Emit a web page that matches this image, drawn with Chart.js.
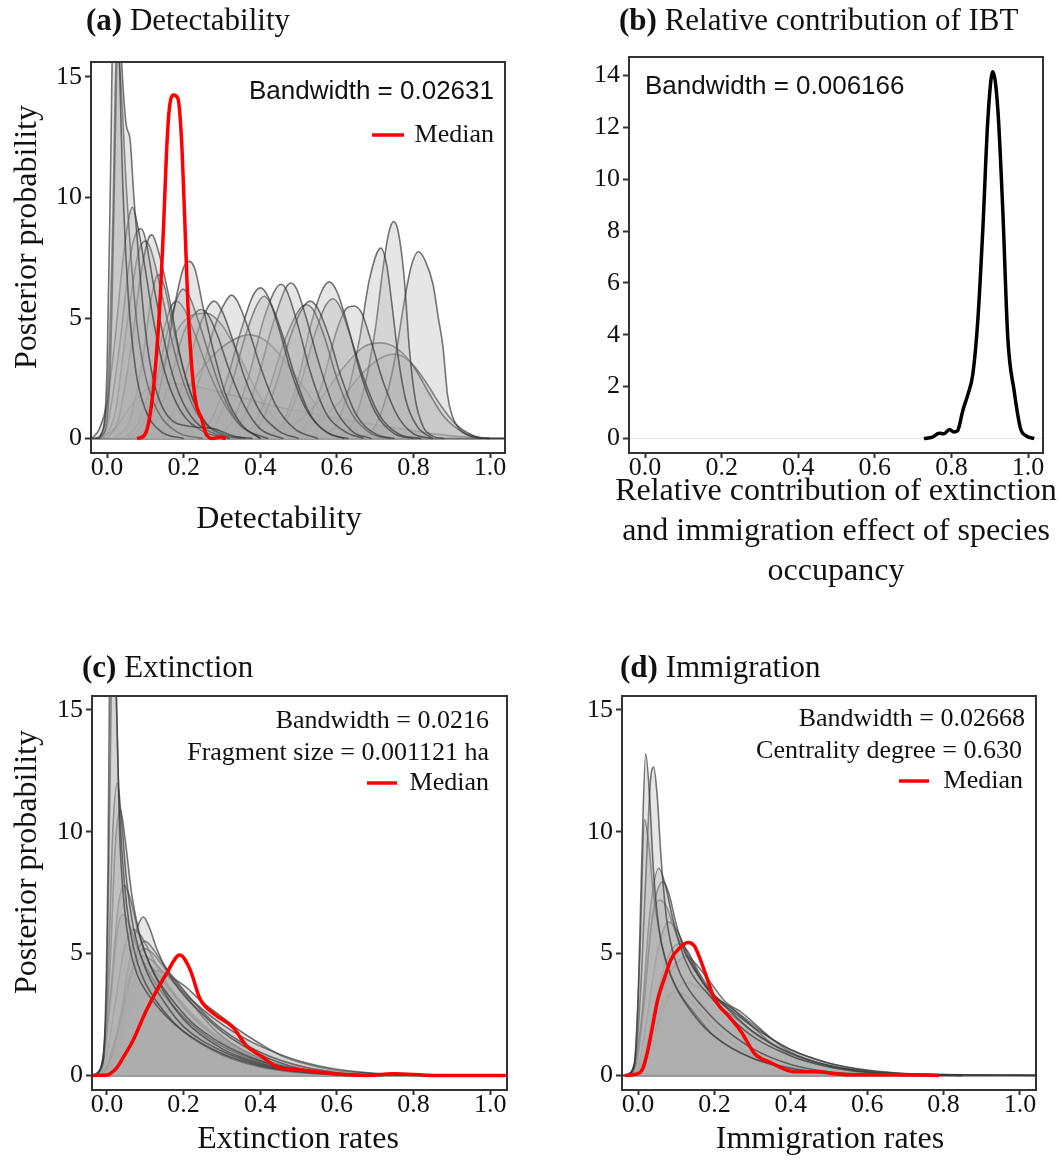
<!DOCTYPE html>
<html>
<head>
<meta charset="utf-8">
<script src="https://cdn.jsdelivr.net/npm/chart.js@4.4.1/dist/chart.umd.min.js"></script>
<style>
  body { margin: 0; background: #fff; }
  #fig { position: relative; width: 1062px; height: 1168px; overflow: hidden; background: #fff; }
  #fig canvas { position: absolute; }
  .ttl { position: absolute; font-family: 'Liberation Serif', 'Times New Roman', serif; font-size: 31px;
         line-height: 36px; color: #111; white-space: nowrap; }
</style>
</head>
<body>
<div id="fig">
  <canvas id="panelA" width="531" height="600" style="left:0;top:0"></canvas>
  <canvas id="panelB" width="531" height="600" style="left:531px;top:0"></canvas>
  <canvas id="panelC" width="531" height="568" style="left:0;top:600px"></canvas>
  <canvas id="panelD" width="531" height="568" style="left:531px;top:600px"></canvas>
  <div class="ttl" style="left:86px;top:2px"><b>(a)</b> Detectability</div>
  <div class="ttl" style="left:619px;top:2px"><b>(b)</b> Relative contribution of IBT</div>
  <div class="ttl" style="left:82px;top:649px"><b>(c)</b> Extinction</div>
  <div class="ttl" style="left:620px;top:649px"><b>(d)</b> Immigration</div>
</div>
<script>
// tick labels
const xTicks = [0, 0.2, 0.4, 0.6, 0.8, 1.0];
const rateYTicks = [0, 5, 10, 15];
const ibtYTicks = [0, 2, 4, 6, 8, 10, 12, 14];

// (a) detectability: posterior densities per species, [x, density]
const detectCurves = [
  [[-0.03,0],[-0.01,0.4],[0,3],[0.01,12],[0.02,22],[0.03,17],[0.04,11],[0.055,6],[0.075,2.8],[0.1,1.2],[0.14,0.3],[0.2,0]],
  [[-0.02,0],[0,0.8],[0.012,5],[0.022,13],[0.03,18],[0.04,15],[0.05,13],[0.06,12.4],[0.07,10],[0.085,7],[0.1,4.5],[0.12,2.5],[0.16,0.9],[0.22,0.5],[0.28,0.4],[0.33,0.1],[0.38,0]],
  [[-0.02,0],[0,1.5],[0.015,9],[0.025,16.5],[0.035,15],[0.05,10.5],[0.065,7],[0.08,4.5],[0.1,2.6],[0.13,1.2],[0.18,0.3],[0.25,0]],
  [[-0.04,0],[-0.02,0.4],[0,1.5],[0.02,4],[0.04,7.2],[0.055,9],[0.066,9.6],[0.08,8.8],[0.1,7],[0.12,5],[0.15,2.8],[0.19,1.2],[0.25,0.3],[0.32,0]],
  [[-0.02,0],[0,0.5],[0.03,3.5],[0.06,7.5],[0.075,8.5],[0.089,8.7],[0.1,8.3],[0.12,6.5],[0.15,4],[0.18,2.2],[0.22,0.9],[0.28,0.2],[0.35,0]],
  [[0,0],[0.03,0.8],[0.06,3.5],[0.09,7],[0.108,8.3],[0.117,8.45],[0.13,8],[0.16,6],[0.19,3.5],[0.22,1.8],[0.26,0.6],[0.32,0]],
  [[-0.01,0],[0.02,1],[0.05,4.5],[0.08,7.6],[0.1,8.2],[0.115,7.8],[0.14,6.2],[0.17,4],[0.2,2.3],[0.24,0.9],[0.3,0.2],[0.36,0]],
  [[0.08,0],[0.12,1],[0.15,3],[0.18,5.8],[0.2,7.1],[0.215,7.35],[0.23,7],[0.25,5.5],[0.28,3.5],[0.31,1.8],[0.35,0.6],[0.4,0]],
  [[0.02,0],[0.06,0.8],[0.09,3],[0.115,5.8],[0.133,6.8],[0.15,6.3],[0.17,4.8],[0.2,2.8],[0.23,1.4],[0.27,0.4],[0.32,0]],
  [[0.06,0],[0.1,0.8],[0.13,2.5],[0.16,4.6],[0.185,5.9],[0.198,6.2],[0.215,5.9],[0.24,4.8],[0.27,3.3],[0.3,1.9],[0.34,0.7],[0.4,0]],
  [[0.04,0],[0.08,0.6],[0.11,2],[0.14,4],[0.165,5.4],[0.181,5.7],[0.2,5.4],[0.23,4.3],[0.26,3],[0.3,1.6],[0.35,0.5],[0.42,0]],
  [[0.08,0],[0.12,0.6],[0.16,2.2],[0.2,4.4],[0.23,5.2],[0.245,5.35],[0.265,5.1],[0.29,4.2],[0.32,2.8],[0.36,1.3],[0.4,0.4],[0.46,0]],
  [[0.12,0],[0.16,0.7],[0.2,2.4],[0.24,4.6],[0.265,5.5],[0.28,5.7],[0.3,5.3],[0.33,4],[0.36,2.5],[0.4,1.1],[0.45,0.3],[0.5,0]],
  [[0.15,0],[0.2,0.8],[0.24,2.4],[0.28,4.6],[0.31,5.7],[0.325,5.95],[0.34,5.7],[0.37,4.5],[0.4,3],[0.44,1.4],[0.49,0.4],[0.55,0]],
  [[0.22,0],[0.27,0.7],[0.31,2.3],[0.35,4.5],[0.38,5.9],[0.4,6.25],[0.42,5.9],[0.45,4.5],[0.48,2.8],[0.52,1.2],[0.57,0.3],[0.62,0]],
  [[0.24,0],[0.28,0.5],[0.32,2],[0.36,4.2],[0.39,5.5],[0.41,5.9],[0.43,5.5],[0.46,4.2],[0.49,2.6],[0.53,1],[0.58,0.2],[0.63,0]],
  [[0.28,0],[0.33,0.8],[0.37,2.6],[0.41,5],[0.44,6.2],[0.455,6.4],[0.47,6.1],[0.5,4.6],[0.53,2.8],[0.57,1.1],[0.62,0.3],[0.67,0]],
  [[0.3,0],[0.35,0.7],[0.39,2.3],[0.43,4.6],[0.465,6.2],[0.48,6.45],[0.495,6.2],[0.52,5],[0.55,3.3],[0.59,1.4],[0.64,0.3],[0.69,0]],
  [[0.36,0],[0.4,0.6],[0.44,2.2],[0.48,4.3],[0.51,5.4],[0.53,5.7],[0.55,5.4],[0.58,4.2],[0.61,2.6],[0.65,1],[0.7,0.2],[0.75,0]],
  [[0.34,0],[0.38,0.5],[0.42,1.9],[0.46,3.9],[0.5,5.3],[0.52,5.55],[0.54,5.3],[0.57,4.1],[0.6,2.5],[0.64,1],[0.69,0.2],[0.74,0]],
  [[0.42,0],[0.46,0.7],[0.5,2.5],[0.53,4.6],[0.56,6.1],[0.58,6.5],[0.6,6.1],[0.63,4.6],[0.66,2.8],[0.7,1.1],[0.75,0.2],[0.8,0]],
  [[0.42,0],[0.46,0.5],[0.5,2],[0.54,4.2],[0.57,5.5],[0.59,5.8],[0.61,5.4],[0.64,4],[0.67,2.5],[0.71,1],[0.76,0.2],[0.82,0]],
  [[0.48,0],[0.52,0.6],[0.56,2.2],[0.6,4.5],[0.625,5.4],[0.645,5.5],[0.665,5.2],[0.69,4],[0.72,2.4],[0.76,0.9],[0.8,0.2],[0.85,0]],
  [[0.56,0],[0.6,0.6],[0.63,2],[0.66,4.2],[0.685,6.6],[0.715,7.9],[0.73,7.2],[0.745,5.4],[0.76,3.4],[0.78,1.6],[0.81,0.5],[0.85,0]],
  [[0.6,0],[0.64,0.6],[0.67,2],[0.7,4.5],[0.72,7],[0.735,8.5],[0.748,9],[0.76,8.6],[0.775,6.8],[0.79,3.6],[0.805,1.6],[0.825,0.5],[0.85,0.1],[0.88,0]],
  [[0.66,0],[0.7,0.5],[0.73,1.8],[0.755,3.6],[0.775,5.6],[0.795,7.2],[0.813,7.75],[0.83,7.4],[0.851,6.4],[0.865,5],[0.877,3.8],[0.889,1.8],[0.902,0.9],[0.92,0.4],[0.94,0.15],[0.97,0]],
  [[0.4,0],[0.48,0.5],[0.55,1.5],[0.62,3],[0.67,3.8],[0.715,3.97],[0.76,3.7],[0.8,3],[0.84,1.9],[0.88,0.9],[0.93,0.25],[0.98,0]],
  [[0.45,0],[0.52,0.4],[0.6,1.4],[0.66,2.6],[0.71,3.3],[0.75,3.5],[0.79,3.2],[0.83,2.4],[0.87,1.4],[0.91,0.6],[0.96,0.1],[1.0,0]],
  [[-0.02,0],[0.02,0.4],[0.06,1.3],[0.1,2],[0.16,2.3],[0.25,2.1],[0.35,1.7],[0.45,1.3],[0.55,1],[0.65,0.7],[0.75,0.45],[0.85,0.2],[0.95,0.05],[1.0,0]],
  [[0.1,0],[0.16,0.8],[0.22,2.3],[0.28,3.5],[0.33,4.1],[0.37,4.3],[0.41,4.1],[0.46,3.3],[0.51,2.2],[0.56,1.1],[0.62,0.3],[0.68,0]],
  [[0.05,0],[0.1,1],[0.14,2.8],[0.18,4.4],[0.22,5.1],[0.26,5.2],[0.3,4.7],[0.34,3.6],[0.38,2.3],[0.43,1],[0.48,0.3],[0.55,0]]
];
const detectMedian = [[0.078,0],[0.099,0.17],[0.116,1.4],[0.129,3.5],[0.14,6.2],[0.148,9],[0.155,11.8],[0.162,13.6],
  [0.174,14.25],[0.185,14.1],[0.194,12.5],[0.203,9],[0.211,5.55],[0.222,2.8],[0.233,1.4],[0.246,0.86],[0.259,0.17],
  [0.276,0],[0.293,0.05],[0.31,0]];

// (b) relative contribution of IBT
const ibtCurve = [[0.728,0],[0.75,0.05],[0.768,0.2],[0.78,0.18],[0.795,0.35],[0.806,0.25],[0.816,0.3],[0.83,1.1],
  [0.843,1.7],[0.856,2.5],[0.869,4.6],[0.882,8.1],[0.895,12.3],[0.908,14.14],[0.921,12.7],[0.934,8.8],[0.947,3.9],
  [0.964,1.8],[0.98,0.4],[0.995,0.1],[1.016,0]];

// (c) extinction rates
const extinctCurves = [
  [[-0.04,0],[-0.015,0.3],[-0.005,2],[0.003,9],[0.01,22],[0.017,24],[0.024,16],[0.033,10],[0.045,7],[0.06,5.2],[0.08,4.1],[0.1,3.5],[0.15,2.5],[0.2,1.8],[0.3,0.9],[0.4,0.4],[0.5,0.15],[0.6,0.05],[0.7,0]],
  [[-0.035,0],[-0.01,0.6],[0,4],[0.008,12],[0.015,19],[0.022,17],[0.03,12],[0.045,8],[0.06,6],[0.08,4.6],[0.1,3.8],[0.15,2.6],[0.2,1.8],[0.3,0.85],[0.4,0.35],[0.5,0.12],[0.62,0]],
  [[-0.03,0],[-0.01,0.8],[0.005,5],[0.015,10],[0.027,12],[0.038,10.5],[0.05,8.2],[0.07,6],[0.1,4.4],[0.15,3],[0.2,2],[0.3,1],[0.4,0.45],[0.5,0.15],[0.6,0.05],[0.7,0]],
  [[-0.03,0],[-0.01,0.7],[0.008,4.5],[0.022,9.5],[0.035,10.9],[0.048,9.6],[0.065,7.4],[0.085,5.8],[0.11,4.6],[0.15,3.4],[0.2,2.3],[0.3,1.1],[0.4,0.5],[0.5,0.2],[0.6,0.07],[0.72,0]],
  [[-0.03,0],[-0.01,0.6],[0.01,3.5],[0.03,7],[0.045,7.8],[0.06,7.3],[0.08,6],[0.1,5],[0.13,4],[0.17,3.1],[0.22,2.2],[0.3,1.3],[0.4,0.6],[0.5,0.25],[0.6,0.08],[0.72,0]],
  [[-0.03,0],[-0.01,0.5],[0.01,3.2],[0.028,6],[0.042,6.6],[0.058,6.2],[0.08,5.2],[0.1,4.5],[0.13,3.7],[0.17,2.9],[0.22,2.1],[0.3,1.2],[0.4,0.55],[0.5,0.2],[0.6,0.06],[0.7,0]],
  [[-0.02,0],[0,0.3],[0.03,2],[0.06,4.8],[0.08,6.1],[0.095,6.5],[0.11,6.1],[0.13,5.2],[0.16,4.2],[0.2,3.3],[0.25,2.5],[0.3,1.8],[0.4,0.85],[0.5,0.3],[0.6,0.08],[0.7,0]],
  [[-0.02,0],[0,0.3],[0.03,1.8],[0.06,4],[0.085,5.3],[0.1,5.5],[0.12,5.2],[0.15,4.5],[0.2,3.5],[0.25,2.6],[0.3,1.9],[0.4,0.95],[0.5,0.4],[0.6,0.12],[0.72,0]],
  [[-0.02,0],[0,0.4],[0.03,2],[0.06,4.1],[0.085,5.05],[0.1,5.2],[0.12,5],[0.15,4.4],[0.2,3.4],[0.25,2.4],[0.3,1.6],[0.4,0.7],[0.5,0.25],[0.6,0.06],[0.7,0]],
  [[-0.02,0],[0,0.2],[0.03,1.7],[0.06,3.8],[0.08,4.7],[0.095,4.9],[0.115,4.75],[0.15,4.2],[0.2,3.4],[0.25,2.7],[0.3,2.1],[0.35,1.6],[0.4,1.2],[0.5,0.6],[0.6,0.25],[0.7,0.08],[0.8,0]],
  [[-0.02,0],[0,0.2],[0.03,1.4],[0.06,3.3],[0.085,4.4],[0.1,4.6],[0.12,4.4],[0.15,3.8],[0.2,2.8],[0.25,2],[0.3,1.4],[0.4,0.6],[0.5,0.2],[0.6,0.05],[0.7,0]],
  [[-0.01,0],[0.02,0.6],[0.05,2.2],[0.08,3.6],[0.11,4.2],[0.13,4.3],[0.16,4.1],[0.2,3.7],[0.25,3],[0.3,2.4],[0.35,1.8],[0.4,1.3],[0.45,0.85],[0.5,0.55],[0.6,0.2],[0.7,0.08],[0.8,0.02],[0.9,0]],
  [[-0.03,0],[-0.005,0.5],[0.02,2.8],[0.045,5.2],[0.07,6],[0.09,5.7],[0.12,4.8],[0.16,3.7],[0.2,2.9],[0.25,2.1],[0.3,1.5],[0.4,0.65],[0.5,0.25],[0.6,0.08],[0.7,0]]
];
const extinctMedian = [[-0.04,0],[0,0.02],[0.008,0.07],[0.025,0.3],[0.045,0.8],[0.067,1.4],[0.104,2.7],[0.156,4.19],
  [0.19,4.94],[0.217,4.34],[0.243,3.14],[0.278,2.54],[0.33,1.95],[0.365,1.2],[0.4,0.82],[0.452,0.3],[0.504,0.22],
  [0.59,0.07],[0.678,0],[0.748,0.07],[0.852,0],[1.04,0]];

// (d) immigration rates
const immigCurves = [
  [[-0.03,0],[-0.01,0.3],[0,3],[0.01,9],[0.02,13.2],[0.03,11.5],[0.04,8.5],[0.055,6],[0.075,4.6],[0.1,3.6],[0.15,2.4],[0.2,1.6],[0.3,0.7],[0.4,0.3],[0.5,0.1],[0.6,0.03],[0.7,0]],
  [[-0.03,0],[-0.01,0.4],[0.005,3],[0.02,8],[0.032,12],[0.041,12.65],[0.05,11.5],[0.06,9],[0.075,6.4],[0.1,4.6],[0.13,3.6],[0.17,2.8],[0.22,2],[0.3,1.1],[0.4,0.45],[0.5,0.15],[0.6,0.05],[0.75,0]],
  [[-0.03,0],[-0.01,0.5],[0.005,5],[0.017,10.5],[0.028,9.5],[0.04,7.5],[0.06,5.5],[0.08,4.3],[0.1,3.6],[0.15,2.5],[0.2,1.6],[0.3,0.7],[0.4,0.25],[0.5,0.08],[0.6,0]],
  [[-0.03,0],[-0.01,0.4],[0.01,2.5],[0.03,6.5],[0.054,8.5],[0.07,7.9],[0.09,6.5],[0.11,5.3],[0.14,4.2],[0.18,3.4],[0.22,2.7],[0.3,1.6],[0.4,0.8],[0.5,0.35],[0.6,0.12],[0.7,0.04],[0.85,0]],
  [[-0.03,0],[-0.005,0.5],[0.015,3],[0.04,6.8],[0.065,7.95],[0.08,7.5],[0.1,6.2],[0.12,5.2],[0.15,4.3],[0.19,3.4],[0.23,2.8],[0.3,1.8],[0.4,0.9],[0.5,0.4],[0.6,0.15],[0.7,0.05],[0.85,0]],
  [[-0.03,0],[-0.005,0.4],[0.015,2.8],[0.035,6.2],[0.057,7.2],[0.075,6.9],[0.1,5.8],[0.13,4.8],[0.17,3.8],[0.21,3.1],[0.25,2.6],[0.3,2],[0.35,1.5],[0.4,1.05],[0.5,0.5],[0.6,0.2],[0.7,0.07],[0.8,0.03],[1.0,0.01],[1.04,0]],
  [[-0.02,0],[0,0.3],[0.02,2],[0.05,5],[0.08,6.3],[0.1,6],[0.13,5],[0.17,3.8],[0.21,2.9],[0.26,2.3],[0.3,1.8],[0.35,1.3],[0.4,0.9],[0.5,0.4],[0.6,0.15],[0.7,0.05],[0.85,0]],
  [[-0.02,0],[0.01,0.5],[0.04,2.6],[0.07,4.5],[0.09,5.2],[0.11,5.4],[0.13,5.1],[0.16,4.2],[0.2,3.3],[0.25,2.7],[0.3,2],[0.35,1.3],[0.4,0.8],[0.5,0.35],[0.6,0.12],[0.7,0]],
  [[-0.02,0],[0.01,0.4],[0.04,2.2],[0.07,3.8],[0.1,4.6],[0.126,4.9],[0.15,4.6],[0.19,3.8],[0.23,3],[0.27,2.6],[0.3,2.2],[0.35,1.5],[0.4,0.95],[0.5,0.4],[0.6,0.15],[0.7,0.05],[0.8,0]],
  [[-0.02,0],[0.01,0.3],[0.04,1.6],[0.07,2.9],[0.1,3.6],[0.13,3.8],[0.16,3.6],[0.2,3.2],[0.25,2.7],[0.3,2.1],[0.35,1.5],[0.4,1.05],[0.45,0.75],[0.5,0.5],[0.6,0.22],[0.7,0.08],[0.8,0.03],[0.9,0.01],[1.04,0]],
  [[-0.02,0],[0.01,0.4],[0.04,2],[0.07,3.2],[0.1,3.4],[0.13,3.2],[0.17,2.5],[0.22,1.7],[0.28,1],[0.35,0.5],[0.45,0.15],[0.55,0]]
];
const immigMedian = [[-0.035,0],[0,0.07],[0.013,0.3],[0.026,1.05],[0.039,2.1],[0.052,3.14],[0.07,4.03],[0.087,4.78],
  [0.109,5.23],[0.131,5.45],[0.148,5.3],[0.166,4.63],[0.183,3.88],[0.196,3.29],[0.213,2.84],[0.235,2.47],[0.27,1.79],
  [0.305,0.9],[0.348,0.52],[0.409,0.15],[0.462,0.15],[0.549,0.03],[0.679,0.03],[0.788,0]];

const SERIF = "'Liberation Serif', 'Times New Roman', serif";
const SANS = "'Liberation Sans', Arial, sans-serif";
const serifNote = '26px ' + SERIF;
const sansNote = '26px ' + SANS;
const axisFont = '32px ' + SERIF;

// frame, zero line, axis titles and the in-plot notes
const deco = {
  id: 'deco',
  beforeDatasetsDraw(chart, args, o) {
    const { ctx, chartArea: a, scales } = chart;
    const y0 = scales.y.getPixelForValue(0);
    ctx.save();
    ctx.strokeStyle = o.zeroColor;
    ctx.lineWidth = o.zeroWidth;
    ctx.beginPath();
    ctx.moveTo(a.left, y0);
    ctx.lineTo(a.right, y0);
    ctx.stroke();
    ctx.restore();
  },
  afterDraw(chart, args, o) {
    const { ctx, chartArea: a } = chart;
    ctx.save();
    ctx.strokeStyle = '#333';
    ctx.lineWidth = 2;
    ctx.strokeRect(a.left, a.top, a.right - a.left, a.bottom - a.top);
    ctx.textBaseline = 'middle';
    ctx.fillStyle = '#111';
    (o.notes || []).forEach(n => {
      ctx.font = n.font;
      ctx.textAlign = n.anchor;
      const x = n.anchor === 'right' ? a.right - n.dx : a.left + n.dx;
      ctx.fillText(n.text, x, a.top + n.dy);
    });
    if (o.key) {
      ctx.strokeStyle = '#ff0000';
      ctx.lineWidth = 3.5;
      ctx.beginPath();
      ctx.moveTo(a.right - o.key.from, a.top + o.key.dy);
      ctx.lineTo(a.right - o.key.to, a.top + o.key.dy);
      ctx.stroke();
    }
    ctx.font = axisFont;
    ctx.textAlign = 'center';
    o.xTitle.lines.forEach((t, i) => ctx.fillText(t, o.xTitle.x, o.xTitle.y + i * o.xTitle.step));
    if (o.yTitle) {
      ctx.translate(o.yTitle.x, o.yTitle.y);
      ctx.rotate(-Math.PI / 2);
      ctx.fillText(o.yTitle.text, 0, 0);
    }
    ctx.restore();
  }
};

const toXY = c => c.map(p => ({ x: p[0], y: p[1] }));

function buildPanel(id, o) {
  const datasets = (o.curves || []).map(c => ({
    data: toXY(c),
    borderColor: 'rgba(55,55,55,0.68)',
    borderWidth: 1.6,
    backgroundColor: 'rgba(172,172,172,0.3)',
    fill: 'origin',
    pointRadius: 0,
    cubicInterpolationMode: 'monotone',
    order: 1
  }));
  datasets.push({
    data: toXY(o.median),
    borderColor: o.medianColor,
    borderWidth: 3.5,
    fill: false,
    pointRadius: 0,
    cubicInterpolationMode: 'monotone',
    order: 0
  });

  const box = o.box, area = o.area;
  const pad = {
    left: area.l - box.left - o.yW,
    top: area.t - box.top,
    right: box.left + box.w - area.r,
    bottom: box.top + box.h - area.b - o.xH
  };

  new Chart(document.getElementById(id), {
    type: 'line',
    data: { datasets },
    options: {
      responsive: false,
      animation: false,
      devicePixelRatio: 1,
      layout: { padding: pad },
      plugins: { legend: { display: false }, tooltip: { enabled: false }, deco: o.deco },
      scales: {
        x: {
          type: 'linear', min: o.xMin, max: o.xMax,
          afterBuildTicks: s => { s.ticks = xTicks.map(v => ({ value: v })); },
          afterFit: s => { s.height = o.xH; },
          grid: { drawOnChartArea: false, color: '#333', tickLength: 5, tickWidth: 2 },
          border: { display: false },
          ticks: { font: { family: SERIF, size: 26, lineHeight: 1 }, color: '#111', padding: -3, maxRotation: 0,
                   callback: v => v.toFixed(1) }
        },
        y: {
          min: o.yMin, max: o.yMax,
          afterBuildTicks: s => { s.ticks = o.yTicks.map(v => ({ value: v })); },
          afterFit: s => { s.width = o.yW; },
          grid: { drawOnChartArea: false, color: '#333', tickLength: 6, tickWidth: 2 },
          border: { display: false },
          ticks: { font: { family: SERIF, size: 26 }, color: '#111', padding: 3, callback: v => String(v) }
        }
      }
    },
    plugins: [deco]
  });
}

buildPanel('panelA', {
  curves: detectCurves, median: detectMedian, medianColor: '#ff0000',
  box: { left: 0, top: 0, w: 531, h: 600 }, area: { l: 91, t: 62, r: 505, b: 453 },
  yW: 91, xH: 86, xMin: -0.042, xMax: 1.039, yMin: -0.6, yMax: 15.62, yTicks: rateYTicks,
  deco: { zeroColor: '#3a3a3a', zeroWidth: 2,
    notes: [
      { text: 'Bandwidth = 0.02631', font: sansNote, anchor: 'right', dx: 11, dy: 30 },
      { text: 'Median', font: serifNote, anchor: 'right', dx: 11, dy: 73 }
    ],
    key: { from: 133, to: 101, dy: 73 },
    xTitle: { lines: ['Detectability'], x: 279, y: 520, step: 0 },
    yTitle: { text: 'Posterior probability', x: 28, y: 237 } }
});

buildPanel('panelB', {
  curves: [], median: ibtCurve, medianColor: '#000000',
  box: { left: 531, top: 0, w: 531, h: 600 }, area: { l: 629, t: 57, r: 1043, b: 453 },
  yW: 60, xH: 138, xMin: -0.042, xMax: 1.039, yMin: -0.56, yMax: 14.71, yTicks: ibtYTicks,
  deco: { zeroColor: 'rgba(0,0,0,0.1)', zeroWidth: 1,
    notes: [{ text: 'Bandwidth = 0.006166', font: sansNote, anchor: 'left', dx: 16, dy: 30 }],
    xTitle: { lines: ['Relative contribution of extinction', 'and immigration effect of species', 'occupancy'],
              x: 305, y: 492, step: 40 } }
});

buildPanel('panelC', {
  curves: extinctCurves, median: extinctMedian, medianColor: '#ff0000',
  box: { left: 0, top: 600, w: 531, h: 568 }, area: { l: 92, t: 696, r: 507, b: 1090 },
  yW: 92, xH: 69, xMin: -0.039, xMax: 1.044, yMin: -0.6, yMax: 15.57, yTicks: rateYTicks,
  deco: { zeroColor: '#3a3a3a', zeroWidth: 2,
    notes: [
      { text: 'Bandwidth = 0.0216', font: serifNote, anchor: 'right', dx: 18, dy: 25 },
      { text: 'Fragment size = 0.001121 ha', font: serifNote, anchor: 'right', dx: 18, dy: 57 },
      { text: 'Median', font: serifNote, anchor: 'right', dx: 18, dy: 87 }
    ],
    key: { from: 140, to: 110, dy: 87 },
    xTitle: { lines: ['Extinction rates'], x: 298, y: 540, step: 0 },
    yTitle: { text: 'Posterior probability', x: 28, y: 262 } }
});

buildPanel('panelD', {
  curves: immigCurves, median: immigMedian, medianColor: '#ff0000',
  box: { left: 531, top: 600, w: 531, h: 568 }, area: { l: 622, t: 696, r: 1036, b: 1090 },
  yW: 60, xH: 69, xMin: -0.042, xMax: 1.042, yMin: -0.6, yMax: 15.57, yTicks: rateYTicks,
  deco: { zeroColor: '#3a3a3a', zeroWidth: 2,
    notes: [
      { text: 'Bandwidth = 0.02668', font: serifNote, anchor: 'right', dx: 11, dy: 23 },
      { text: 'Centrality degree = 0.630', font: serifNote, anchor: 'right', dx: 14, dy: 55 },
      { text: 'Median', font: serifNote, anchor: 'right', dx: 13, dy: 85 }
    ],
    key: { from: 137, to: 107, dy: 85 },
    xTitle: { lines: ['Immigration rates'], x: 299, y: 540, step: 0 } }
});
</script>
</body>
</html>
